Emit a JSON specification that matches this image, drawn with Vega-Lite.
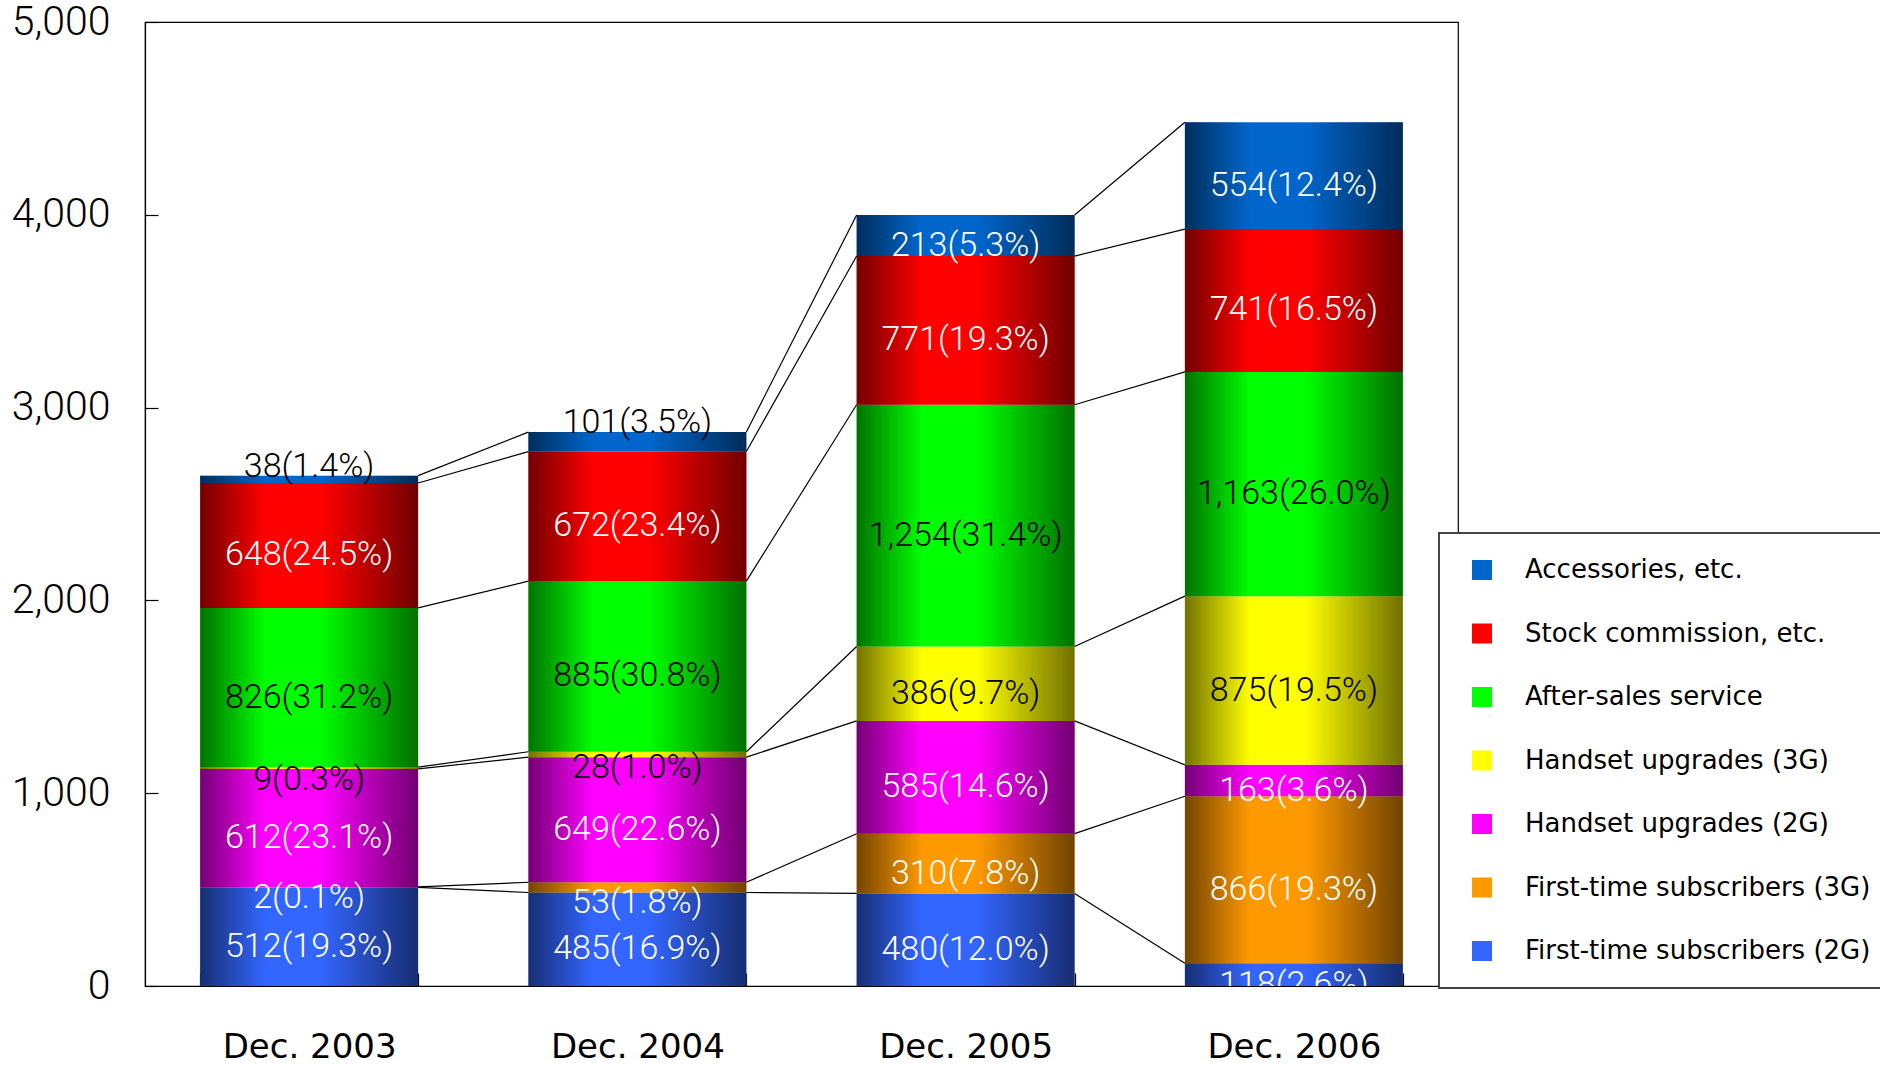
{
  "$schema": "https://vega.github.io/schema/vega-lite/v6.json",
  "width": 1313,
  "height": 964,
  "autosize": {"type": "none"},
  "padding": {"left": 145, "top": 22, "right": 422, "bottom": 82},
  "background": "white",
  "config": {
    "view": {"stroke": "black", "strokeWidth": 1.2},
    "axis": {"grid": false, "domainColor": "black", "domainWidth": 1.2, "tickColor": "black", "tickWidth": 1.2, "labelColor": "black"},
    "axisX": {"tickSize": -13, "tickBand": "extent", "labelAngle": 0, "labelFont": "DejaVu Sans", "labelFontSize": 34, "labelPadding": 57},
    "axisY": {"tickSize": -13, "labelFont": "Roboto", "labelFontWeight": 300, "labelFontSize": 41, "labelPadding": 48},
    "legend": {
      "orient": "none", "legendX": 1294, "legendY": 511, "padding": 24,
      "strokeColor": "#444444", "strokeWidth": 2, "fillColor": "white",
      "symbolType": "square", "symbolSize": 400, "symbolStrokeWidth": 0, "symbolOffset": 6,
      "labelFont": "DejaVu Sans", "labelFontSize": 26, "labelColor": "black",
      "labelOffset": 30, "rowPadding": 37.5, "labelLimit": 600
    }
  },
  "data": {
    "values": [
      {"period": "Dec. 2003", "series": "First-time subscribers (2G)", "value": 512, "pct": 19.3},
      {"period": "Dec. 2003", "series": "First-time subscribers (3G)", "value": 2, "pct": 0.1},
      {"period": "Dec. 2003", "series": "Handset upgrades (2G)", "value": 612, "pct": 23.1},
      {"period": "Dec. 2003", "series": "Handset upgrades (3G)", "value": 9, "pct": 0.3},
      {"period": "Dec. 2003", "series": "After-sales service", "value": 826, "pct": 31.2},
      {"period": "Dec. 2003", "series": "Stock commission, etc.", "value": 648, "pct": 24.5},
      {"period": "Dec. 2003", "series": "Accessories, etc.", "value": 38, "pct": 1.4},
      {"period": "Dec. 2004", "series": "First-time subscribers (2G)", "value": 485, "pct": 16.9},
      {"period": "Dec. 2004", "series": "First-time subscribers (3G)", "value": 53, "pct": 1.8},
      {"period": "Dec. 2004", "series": "Handset upgrades (2G)", "value": 649, "pct": 22.6},
      {"period": "Dec. 2004", "series": "Handset upgrades (3G)", "value": 28, "pct": 1.0},
      {"period": "Dec. 2004", "series": "After-sales service", "value": 885, "pct": 30.8},
      {"period": "Dec. 2004", "series": "Stock commission, etc.", "value": 672, "pct": 23.4},
      {"period": "Dec. 2004", "series": "Accessories, etc.", "value": 101, "pct": 3.5},
      {"period": "Dec. 2005", "series": "First-time subscribers (2G)", "value": 480, "pct": 12.0},
      {"period": "Dec. 2005", "series": "First-time subscribers (3G)", "value": 310, "pct": 7.8},
      {"period": "Dec. 2005", "series": "Handset upgrades (2G)", "value": 585, "pct": 14.6},
      {"period": "Dec. 2005", "series": "Handset upgrades (3G)", "value": 386, "pct": 9.7},
      {"period": "Dec. 2005", "series": "After-sales service", "value": 1254, "pct": 31.4},
      {"period": "Dec. 2005", "series": "Stock commission, etc.", "value": 771, "pct": 19.3},
      {"period": "Dec. 2005", "series": "Accessories, etc.", "value": 213, "pct": 5.3},
      {"period": "Dec. 2006", "series": "First-time subscribers (2G)", "value": 118, "pct": 2.6},
      {"period": "Dec. 2006", "series": "First-time subscribers (3G)", "value": 866, "pct": 19.3},
      {"period": "Dec. 2006", "series": "Handset upgrades (2G)", "value": 163, "pct": 3.6},
      {"period": "Dec. 2006", "series": "Handset upgrades (3G)", "value": 875, "pct": 19.5},
      {"period": "Dec. 2006", "series": "After-sales service", "value": 1163, "pct": 26.0},
      {"period": "Dec. 2006", "series": "Stock commission, etc.", "value": 741, "pct": 16.5},
      {"period": "Dec. 2006", "series": "Accessories, etc.", "value": 554, "pct": 12.4}
    ]
  },
  "transform": [
    {"calculate": "indexof(['Accessories, etc.', 'Stock commission, etc.', 'After-sales service', 'Handset upgrades (3G)', 'Handset upgrades (2G)', 'First-time subscribers (3G)', 'First-time subscribers (2G)'], datum.series)", "as": "rank"},
    {"stack": "value", "groupby": ["period"], "sort": [{"field": "rank", "order": "descending"}], "as": ["y0", "y1"]},
    {"calculate": "(datum.y0 + datum.y1) / 2", "as": "ymid"},
    {"calculate": "format(datum.value, ',') + '(' + format(datum.pct, '.1f') + '%)'", "as": "label"}
  ],
  "layer": [
    {
      "mark": {"type": "bar"},
      "encoding": {
        "x": {"field": "period", "type": "nominal", "title": null, "scale": {"paddingInner": 0.336, "paddingOuter": 0.168}},
        "y": {"field": "y0", "type": "quantitative", "title": null, "scale": {"domain": [0, 5000], "nice": false}, "axis": {"values": [0, 1000, 2000, 3000, 4000, 5000], "format": ",d"}},
        "y2": {"field": "y1"},
        "color": {
          "field": "series", "type": "nominal", "title": null,
          "scale": {
            "domain": ["Accessories, etc.", "Stock commission, etc.", "After-sales service", "Handset upgrades (3G)", "Handset upgrades (2G)", "First-time subscribers (3G)", "First-time subscribers (2G)"],
            "range": ["#0066cc", "#ff0000", "#00ff00", "#ffff00", "#ff00ff", "#ff9900", "#3366ff"]
          }
        }
      }
    },
    {
      "mark": {
        "type": "bar",
        "color": {
          "gradient": "linear", "x1": 0, "x2": 1, "y1": 0, "y2": 0,
          "stops": [
            {"offset": 0, "color": "rgba(0,0,0,0.55)"},
            {"offset": 0.3, "color": "rgba(0,0,0,0)"},
            {"offset": 0.55, "color": "rgba(0,0,0,0)"},
            {"offset": 1, "color": "rgba(0,0,0,0.56)"}
          ]
        }
      },
      "encoding": {
        "x": {"field": "period", "type": "nominal", "title": null},
        "y": {"field": "y0", "type": "quantitative", "title": null},
        "y2": {"field": "y1"}
      }
    },
    {
      "transform": [
        {"window": [{"op": "lead", "field": "y1", "as": "next_y1"}, {"op": "lead", "field": "period", "as": "next_period"}], "groupby": ["series"], "sort": [{"field": "period", "order": "ascending"}]},
        {"filter": "datum.next_period != null"}
      ],
      "mark": {"type": "rule", "color": "black", "strokeWidth": 1.2},
      "encoding": {
        "x": {"field": "period", "type": "nominal", "title": null, "bandPosition": 1},
        "x2": {"field": "next_period", "bandPosition": 0},
        "y": {"field": "y1", "type": "quantitative", "title": null},
        "y2": {"field": "next_y1"}
      }
    },
    {
      "transform": [
        {"filter": "!(datum.pct < 2.5 && datum.series !== 'Accessories, etc.') && !(datum.series === 'Accessories, etc.' && datum.pct < 4)"}
      ],
      "mark": {"type": "text", "baseline": "middle", "dy": 10, "clip": true, "font": "Roboto", "fontWeight": 300, "fontSize": 34},
      "encoding": {
        "x": {"field": "period", "type": "nominal", "title": null},
        "y": {"field": "ymid", "type": "quantitative", "title": null},
        "text": {"field": "label"},
        "color": {"condition": {"test": "datum.series === 'After-sales service' || datum.series === 'Handset upgrades (3G)'", "value": "black"}, "value": "white"}
      }
    },
    {
      "transform": [
        {"filter": "datum.pct < 2.5 && datum.series !== 'Accessories, etc.'"}
      ],
      "mark": {"type": "text", "baseline": "top", "dy": -6, "font": "Roboto", "fontWeight": 300, "fontSize": 34},
      "encoding": {
        "x": {"field": "period", "type": "nominal", "title": null},
        "y": {"field": "y0", "type": "quantitative", "title": null},
        "text": {"field": "label"},
        "color": {"condition": {"test": "datum.series === 'Handset upgrades (3G)'", "value": "black"}, "value": "white"}
      }
    },
    {
      "transform": [
        {"filter": "datum.series === 'Accessories, etc.' && datum.pct < 4"}
      ],
      "mark": {"type": "text", "baseline": "alphabetic", "dy": 1, "color": "black", "font": "Roboto", "fontWeight": 300, "fontSize": 34},
      "encoding": {
        "x": {"field": "period", "type": "nominal", "title": null},
        "y": {"field": "y1", "type": "quantitative", "title": null},
        "text": {"field": "label"}
      }
    }
  ]
}
